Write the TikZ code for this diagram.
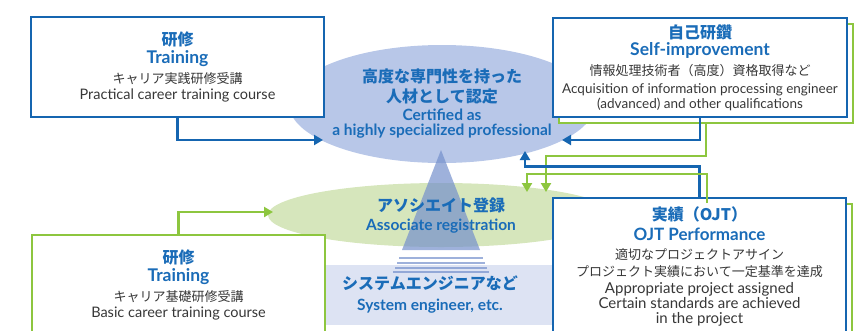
\documentclass[tikz,border=0pt]{standalone}
\usepackage{fontspec}
\setmainfont{Lato}
\newfontfamily\jp{Noto Sans CJK JP}
\usepackage{xcolor}
\usetikzlibrary{
  shapes.geometric,
  arrows.meta,
  shadows
}

\definecolor{lineblue}{RGB}{21,101,176}
\definecolor{headblue}{RGB}{26,108,184}
\definecolor{linegreen}{RGB}{141,198,63}
\definecolor{bodygray}{RGB}{55,55,55}
\definecolor{certfill}{RGB}{184,199,232}
\definecolor{assocfill}{RGB}{214,230,188}
\definecolor{bandfill}{RGB}{221,227,243}
\definecolor{pyramid}{RGB}{117,144,204}

% 文字の書式
\newcommand{\jhead}[1]{{\jp\bfseries\fontsize{16}{17}\selectfont\color{headblue}#1}}
\newcommand{\ehead}[2][15.5]{{\bfseries\fontsize{#1}{17}\selectfont\color{headblue}#2}}
\newcommand{\jbody}[1]{{\jp\fontsize{13}{17}\selectfont\color{bodygray}#1}}
\newcommand{\ebody}[2][13.5]{{\fontsize{#1}{17}\selectfont\color{bodygray}#2}}

\begin{document}
\begin{tikzpicture}[%詳細設定
        x=1pt,y=-1pt,
        every node/.style={
            font=\fontsize{13}{17}\selectfont
          },bluebox/.style={
            draw=lineblue,
            line width=2.8pt,
            fill=white,
            align=center,
            inner sep=0pt
          },greenbox/.style={
            bluebox,
            draw=linegreen
          },shadowbox/.style={
            bluebox,
            copy shadow={
                shadow xshift=6pt,
                shadow yshift=-6pt,
                draw=linegreen,
                fill=white,
                line width=2.8pt
              }
          },blueline/.style={
            draw=lineblue,
            color=lineblue,
            line width=2.5pt,
            -{Triangle[length=9pt,width=10pt]}
          },greenline/.style={
            blueline,
            draw=linegreen,
            color=linegreen
          }
      ]
      \useasboundingbox (0,0) rectangle (861,330);

      % 楕円と帯
      \node[ellipse,fill=certfill,minimum width=306pt,minimum height=118pt] (cert) at (442,104) {};
      \node[ellipse,fill=assocfill,minimum width=346pt,minimum height=64pt] (assoc) at (441,215) {};
      \node[fill=bandfill,minimum width=260pt,minimum height=60pt,align=center,inner sep=0pt] (band) at (430,295)
        {\jhead{システムエンジニアなど}\\[4pt]\ehead{System engineer, etc.}};

      % ピラミッド
      \fill[pyramid,opacity=.7] (441,150) -- (480,250) -- (402,250) -- cycle;
      \foreach \y/\w in {258/42,263/44,267.5/46,272/48}
        \fill[pyramid,opacity=.7] (441-\w,\y-1) rectangle (441+\w,\y+1);

      % 楕円の文字
      \node[align=center] (certtext) at (442,104)
        {\jhead{高度な専門性を持った}\\[3pt]\jhead{人材として認定}\\[1pt]
         \ehead{Certified as}\\[-2pt]\ehead{a highly specialized professional}};
      \node[align=center] (assoctext) at (441,216)
        {\jhead{アソシエイト登録}\\[2pt]\ehead{Associate registration}};

      % 四角
      \node[bluebox,minimum width=293pt,minimum height=100pt] (train1) at (177.5,67)
        {\jhead{研修}\\[1pt]\ehead[17.5]{Training}\\[3pt]\jbody{キャリア実践研修受講}\\[-1pt]\ebody[14.5]{Practical career training course}};
      \node[greenbox,minimum width=293pt,minimum height=100pt] (train2) at (178.5,285)
        {\jhead{研修}\\[1pt]\ehead[17.5]{Training}\\[3pt]\jbody{キャリア基礎研修受講}\\[-1pt]\ebody[14.5]{Basic career training course}};
      \node[shadowbox,minimum width=294pt,minimum height=99pt] (self) at (700,67.5)
        {\jhead{自己研鑽}\\\ehead[17.5]{Self-improvement}\\[3pt]\jbody{情報処理技術者（高度）資格取得など}\\[1pt]
         \ebody{Acquisition of information processing engineer}\\[-2pt]\ebody{(advanced) and other qualifications}};
      \node[shadowbox,minimum width=293pt,minimum height=136pt] (ojt) at (699.5,266)
        {\jhead{実績（OJT）}\\[3pt]\ehead[17]{OJT Performance}\\[2pt]\jbody{適切なプロジェクトアサイン}\\\jbody{プロジェクト実績において一定基準を達成}\\
         \ebody[15]{Appropriate project assigned}\\[-2pt]\ebody[15]{Certain standards are achieved}\\[-2pt]\ebody[15]{in the project}};

      % 座標の定義
      \coordinate (self shadow) at (706,123);
      \coordinate (ojt shadow) at (707,203);
      \coordinate (cert left) at (323,140);
      \coordinate (cert right) at (562,140);
      \coordinate (cert bottom) at (525,151);
      \coordinate (assoc left) at (273,212);
      \coordinate (assoc top1) at (527,192);
      \coordinate (assoc top2) at (546,192);

      % 矢印
      \draw[blueline] (train1.south) |- (cert left);
      \draw[blueline] (self.south) |- (cert right);
      \draw[greenline] (self shadow) -- ++(0,33) -| (assoc top2);
      \draw[blueline] (ojt.north) -- ++(0,-30) -| (cert bottom);
      \draw[greenline] (ojt shadow) -- ++(0,-29) -| (assoc top1);
      \draw[greenline] (train2.north) |- (assoc left);

    \end{tikzpicture}
\end{document}
